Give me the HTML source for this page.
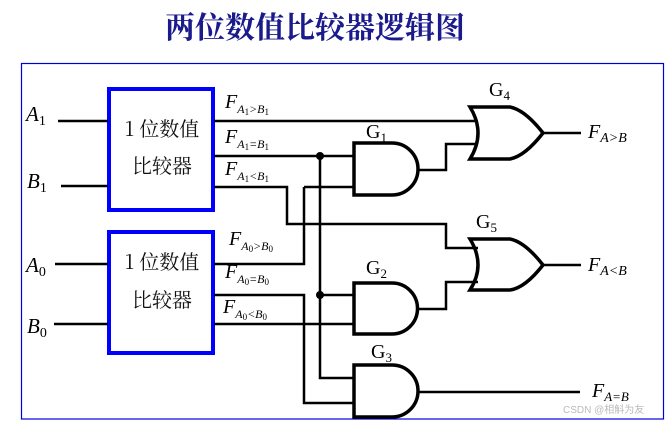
<!DOCTYPE html>
<html><head><meta charset="utf-8"><style>
html,body{margin:0;padding:0;background:#fff;width:667px;height:422px;overflow:hidden}
svg{display:block}
.t{font-family:"Liberation Serif",serif;fill:#000}
.i{font-style:italic}
</style></head><body>
<svg width="667" height="422" viewBox="0 0 667 422" xmlns="http://www.w3.org/2000/svg">
<text x="315" y="38" text-anchor="middle" font-family="'Noto Serif CJK SC','Liberation Serif',serif" font-size="30" font-weight="bold" fill="#1a1a8c">两位数值比较器逻辑图</text>
<rect x="21.5" y="63.5" width="642" height="355.5" fill="none" stroke="#0000dd" stroke-width="1.2"/>
<g stroke="#0000ff" stroke-width="4" fill="none">
<rect x="109" y="89" width="104" height="121"/>
<rect x="109" y="232" width="104" height="121"/>
</g>
<g font-family="'Noto Serif CJK SC','Liberation Serif',serif" font-size="20" fill="#111" text-anchor="middle">
<text x="162" y="136">1 位数值</text><text x="162" y="173">比较器</text>
<text x="162" y="269">1 位数值</text><text x="162" y="307">比较器</text>
</g>
<g stroke="#000" stroke-width="2.5" fill="none">
<path d="M58 121H108M61 186H108M55 264H108M54 324H108"/>
<path d="M214 121H478"/>
<path d="M214 156H354"/>
<path d="M214 187H287V224H446V248H478"/>
<path d="M304 187H354"/>
<path d="M214 264H304V187"/>
<path d="M214 295H304V403H354"/>
<path d="M320 156V378H354"/>
<path d="M320 295H354"/>
<path d="M214 324H354"/>
<path d="M418 170H446V144H478"/>
<path d="M418 309H446V282H478"/>
<path d="M543 133H581M543 265H581M418 392H580"/>
</g>
<g fill="#000"><circle cx="320" cy="156" r="4"/><circle cx="320" cy="295" r="4"/></g>
<g stroke="#000" stroke-width="3.5" fill="none">
<path d="M354 143H392A26 26 0 0 1 392 195H354Z"/>
<path d="M354 283H392A25.5 25.5 0 0 1 392 334H354Z"/>
<path d="M354 365H392A26 26 0 0 1 392 417H354Z"/>
<path d="M470 107H510Q525 110 543 133Q525 156 510 159H470Q486 133 470 107Z"/>
<path d="M470 239H510Q525 242 543 265Q525 288 510 290H470Q486 265 470 239Z"/>
</g>
<g class="t" font-size="20">
<text x="489" y="96">G<tspan font-size="13" dy="4">4</tspan></text>
<text x="366" y="138">G<tspan font-size="13" dy="4">1</tspan></text>
<text x="476" y="228">G<tspan font-size="13" dy="4">5</tspan></text>
<text x="366" y="274">G<tspan font-size="13" dy="4">2</tspan></text>
<text x="371" y="358">G<tspan font-size="13" dy="4">3</tspan></text>
</g>
<g class="t i" font-size="21">
<text x="26" y="121">A<tspan font-style="normal" font-size="14" dy="4">1</tspan></text>
<text x="27" y="188">B<tspan font-style="normal" font-size="14" dy="4">1</tspan></text>
<text x="26" y="272">A<tspan font-style="normal" font-size="14" dy="4">0</tspan></text>
<text x="27" y="333">B<tspan font-style="normal" font-size="14" dy="4">0</tspan></text>
</g>
<g class="t i" font-size="20">
<text x="225" y="108">F<tspan font-size="12" dy="5">A</tspan><tspan font-size="9" font-style="normal" dy="2">1</tspan><tspan font-size="12" dy="-2">&gt;B</tspan><tspan font-size="9" font-style="normal" dy="2">1</tspan></text>
<text x="225" y="143">F<tspan font-size="12" dy="5">A</tspan><tspan font-size="9" font-style="normal" dy="2">1</tspan><tspan font-size="12" dy="-2">=B</tspan><tspan font-size="9" font-style="normal" dy="2">1</tspan></text>
<text x="225" y="175">F<tspan font-size="12" dy="5">A</tspan><tspan font-size="9" font-style="normal" dy="2">1</tspan><tspan font-size="12" dy="-2">&lt;B</tspan><tspan font-size="9" font-style="normal" dy="2">1</tspan></text>
<text x="229" y="245">F<tspan font-size="12" dy="5">A</tspan><tspan font-size="9" font-style="normal" dy="2">0</tspan><tspan font-size="12" dy="-2">&gt;B</tspan><tspan font-size="9" font-style="normal" dy="2">0</tspan></text>
<text x="225" y="278">F<tspan font-size="12" dy="5">A</tspan><tspan font-size="9" font-style="normal" dy="2">0</tspan><tspan font-size="12" dy="-2">=B</tspan><tspan font-size="9" font-style="normal" dy="2">0</tspan></text>
<text x="223" y="313">F<tspan font-size="12" dy="5">A</tspan><tspan font-size="9" font-style="normal" dy="2">0</tspan><tspan font-size="12" dy="-2">&lt;B</tspan><tspan font-size="9" font-style="normal" dy="2">0</tspan></text>
<text x="588" y="138">F<tspan font-size="14" dy="4">A&gt;B</tspan></text>
<text x="588" y="271">F<tspan font-size="14" dy="4">A&lt;B</tspan></text>
<text x="592" y="397">F<tspan font-size="13" dy="4">A=B</tspan></text>
</g>
<text x="563" y="413" font-family="'Liberation Sans','Noto Sans CJK SC',sans-serif" font-size="10" fill="#bbb">CSDN @相斛为友</text>
</svg>
</body></html>
